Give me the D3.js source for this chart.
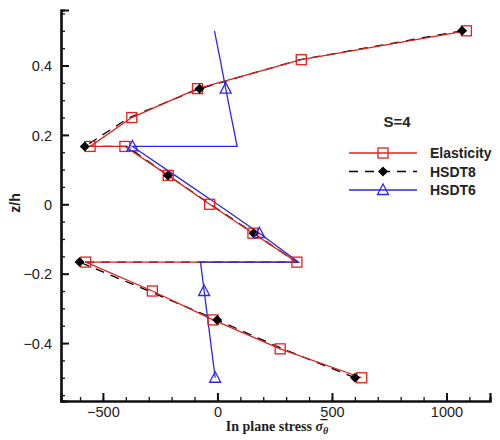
<!DOCTYPE html>
<html>
<head>
<meta charset="utf-8">
<script src="https://cdn.jsdelivr.net/npm/d3@7"></script>
<style>
body { margin: 0; background: #fff; }
svg { display: block; }
</style>
</head>
<body>
<svg width="500" height="440"></svg>
<script>
// z/h positions through the thickness (3 layers, 5 points each)
var zh = [0.5, 0.4167, 0.3333, 0.25, 0.1667,
	0.1667, 0.0833, 0, -0.0833, -0.1667,
	-0.1667, -0.25, -0.3333, -0.4167, -0.5];

// In plane stress values
var elasticity = [1087, 366, -87, -374, -556,
	-404, -215, -34, 155, 347,
	-575, -284, -19, 274, 630];
var hsdt8 = [1068, 360, -78, -385, -579,
	-395, -216, -30, 158, 345,
	-602, -300, -1, 285, 601];
var hsdt6 = [-13, 12, 36, 61, 86,
	-371, -185, 0, 183, 354,
	-74, -58, -42, -26, -10];

var xTicks = [-500, 0, 500, 1000];
var yTicks = [-0.4, -0.2, 0, 0.2, 0.4];
var legendTitle = "S=4";

var svg = d3.select("svg");

var x = d3.scaleLinear().domain([-683, 1190]).range([61, 490]);
var y = d3.scaleLinear().domain([-0.567, 0.56]).range([401, 10]);

var series = [
	{ name: "Elasticity", values: elasticity, color: "#e0201c", dash: null, marker: "square", every: (i) => true },
	{ name: "HSDT8", values: hsdt8, color: "#000", dash: "9,7", marker: "diamond", every: (i) => i % 2 == 0 },
	{ name: "HSDT6", values: hsdt6, color: "#2a2ae0", dash: null, marker: "triangle", every: (i) => i % 3 == 2 }
];
var lineOrder = [1, 0, 2]; // red line over the dashes

// Axes (ticks pointing inwards)
var g = svg.append("g");

function minorAxis(axis, ticks) {
	return axis.tickValues(ticks).tickSize(-4).tickFormat("");
}

g.append("g")
	.attr("transform", "translate(0," + y.range()[0] + ")")
	.call(minorAxis(d3.axisBottom(x), d3.range(-600, 1101, 100)));
g.append("g")
	.attr("transform", "translate(" + x.range()[0] + ",0)")
	.call(minorAxis(d3.axisLeft(y), d3.range(-11, 12).map((d) => d * 0.05)));

var xAxis = g.append("g")
	.attr("transform", "translate(0," + y.range()[0] + ")")
	.call(d3.axisBottom(x).tickValues(xTicks).tickSize(-8).tickPadding(6).tickFormat(d3.format("d")));
var yAxis = g.append("g")
	.attr("transform", "translate(" + x.range()[0] + ",0)")
	.call(d3.axisLeft(y).tickValues(yTicks).tickSize(-8).tickPadding(9).tickFormat((d) => d == 0 ? "0" : d3.format(".1f")(d)));

g.selectAll(".domain").attr("stroke", "#111").attr("stroke-width", 2.2);
g.selectAll(".tick line").attr("stroke", "#111").attr("stroke-width", 1.3);
xAxis.selectAll(".tick line").attr("stroke-width", 2);
yAxis.selectAll(".tick line").attr("stroke-width", 2);
g.selectAll(".tick text")
	.attr("font-family", "Liberation Sans, Arial, sans-serif")
	.attr("font-size", 14.5)
	.attr("fill", "#222");
yAxis.selectAll(".tick text").attr("dy", "0.36em");

// Axis titles
svg.append("text")
	.attr("transform", "translate(20,203) rotate(-90)")
	.attr("text-anchor", "middle")
	.attr("font-family", "Liberation Sans, Arial, sans-serif")
	.attr("font-weight", "bold")
	.attr("font-size", 14)
	.attr("fill", "#222")
	.text("z/h");

var xt = svg.append("text")
	.attr("x", 277)
	.attr("y", 431)
	.attr("text-anchor", "middle")
	.attr("font-family", "Liberation Serif, Times New Roman, serif")
	.attr("font-weight", "bold")
	.attr("font-size", 14)
	.attr("fill", "#222");
xt.append("tspan").text("In plane stress ");
xt.append("tspan").attr("font-style", "italic").text("\u03C3\u0305");
xt.append("tspan").attr("font-style", "italic").attr("font-size", 10).attr("dy", 3).text("\u03B8");

// Markers
function drawMarker(sel, type, color) {
	if (type == "square") {
		sel.append("rect")
			.attr("x", -5).attr("y", -5).attr("width", 10).attr("height", 10)
			.attr("fill", "none").attr("stroke", color).attr("stroke-width", 1.3);
	} else if (type == "diamond") {
		sel.append("path")
			.attr("d", "M0,-5L5,0L0,5L-5,0Z")
			.attr("fill", color);
	} else {
		sel.append("path")
			.attr("d", "M0,-6L5.5,4.5L-5.5,4.5Z")
			.attr("fill", "none").attr("stroke", color).attr("stroke-width", 1.3);
	}
}

var line = d3.line()
	.x((d) => x(d[0]))
	.y((d) => y(d[1]));

// lines first
lineOrder.forEach(function (k) {
	var s = series[k];
	svg.append("path")
		.attr("d", line(s.values.map((v, i) => [v, zh[i]])))
		.attr("fill", "none")
		.attr("stroke", s.color)
		.attr("stroke-width", 1.3)
		.attr("stroke-dasharray", s.dash);
});

// then markers
series.forEach(function (s) {
	s.values.forEach(function (v, i) {
		if (!s.every(i)) return;
		var m = svg.append("g").attr("transform", "translate(" + x(v) + "," + y(zh[i]) + ")");
		drawMarker(m, s.marker, s.color);
	});
});

// Legend
var legend = svg.append("g");
legend.append("text")
	.attr("x", 397).attr("y", 127)
	.attr("text-anchor", "middle")
	.attr("font-family", "Liberation Sans, Arial, sans-serif")
	.attr("font-weight", "bold")
	.attr("font-size", 15)
	.attr("fill", "#222")
	.text(legendTitle);

series.forEach(function (s, i) {
	var ly = 153 + i * 18.5;
	legend.append("line")
		.attr("x1", 349).attr("x2", 417).attr("y1", ly).attr("y2", ly)
		.attr("stroke", s.color).attr("stroke-width", 1.3)
		.attr("stroke-dasharray", s.dash);
	drawMarker(legend.append("g").attr("transform", "translate(383," + ly + ")"), s.marker, s.color);
	legend.append("text")
		.attr("x", 430).attr("y", ly + 5)
		.attr("font-family", "Liberation Sans, Arial, sans-serif")
		.attr("font-weight", "bold")
		.attr("font-size", 14)
		.attr("fill", "#222")
		.text(s.name);
});
</script>
</body>
</html>
